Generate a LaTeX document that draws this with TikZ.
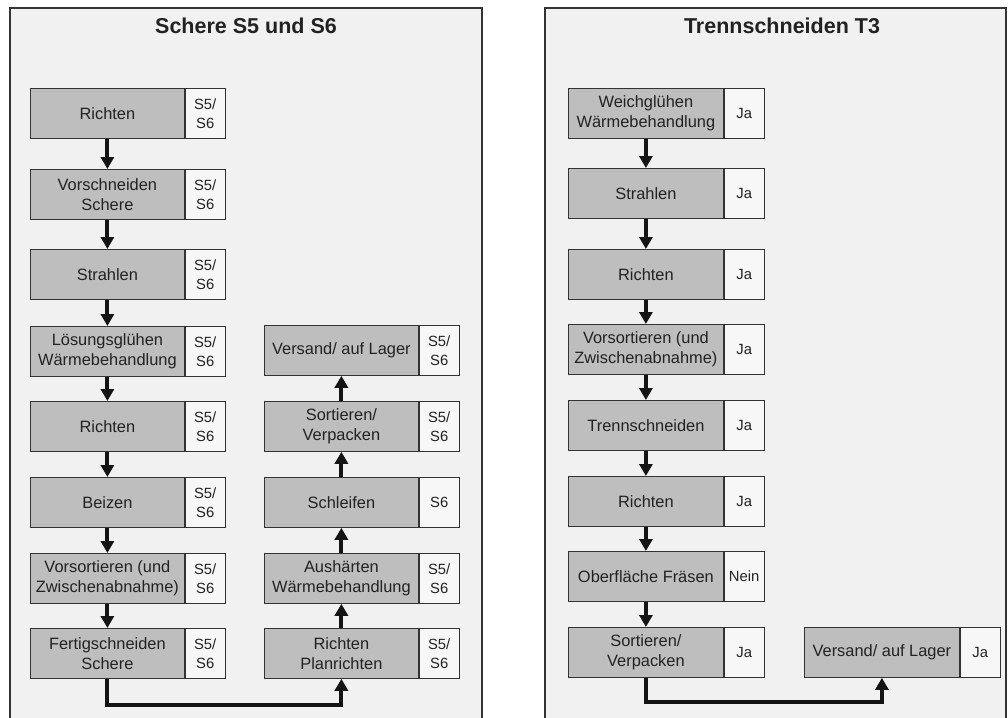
\documentclass[tikz,border=0pt]{standalone}
\usepackage{fontspec}
\setmainfont{Liberation Sans}
\usetikzlibrary{arrows.meta}
\definecolor{panelbg}{HTML}{F1F1F1}
\definecolor{panelline}{HTML}{333333}
\definecolor{procfill}{HTML}{BEBEBE}
\definecolor{sidefill}{HTML}{F7F7F7}
\definecolor{textcol}{HTML}{222222}

% process step: gray box with label plus a small side cell
% #1 name, #2 left x, #3 top y, #4 width of gray part, #5 label, #6 side text
\newcommand\flowstep[6]{%
  \node[proc, minimum width=#4pt] (#1) at (#2,#3) {#5};
  \node[side] (#1s) at (#1.north east) {#6};
}

\begin{document}
\begin{tikzpicture}[x=1pt,y=-1pt,
  panel/.style={draw=panelline, line width=1.3pt, fill=panelbg},
  title/.style={font=\bfseries\fontsize{21.5}{26}\selectfont, text=textcol},
  proc/.style={draw=panelline, line width=0.8pt, fill=procfill, anchor=north west,
    minimum height=50pt, inner sep=0pt, align=center, text=textcol,
    font=\fontsize{16.4}{20}\selectfont},
  side/.style={draw=panelline, line width=0.8pt, fill=sidefill, anchor=north west,
    minimum width=40pt, minimum height=50pt, inner sep=0pt, align=center, text=textcol,
    font=\fontsize{14.8}{19}\selectfont},
  flow/.style={line width=4pt, draw=black!92, line join=miter,
    -{Triangle[width=13pt,length=12pt]}},
]
\useasboundingbox (0,0) rectangle (1008,717);
\clip (0,0) rectangle (1008,717);

% panels
\draw[panel] (10,8) rectangle (482,740);
\draw[panel] (545,8) rectangle (1006,740);
\node[title] (t1) at (246,26) {Schere S5 und S6};
\node[title] (t2) at (782,26) {Trennschneiden T3};

% ---- Schere S5 und S6, left column
\flowstep{a1}{30}{88}{154}{Richten}{S5/\\S6}
\flowstep{a2}{30}{169}{154}{Vorschneiden\\Schere}{S5/\\S6}
\flowstep{a3}{30}{249}{154}{Strahlen}{S5/\\S6}
\flowstep{a4}{30}{326}{154}{Lösungsglühen\\Wärmebehandlung}{S5/\\S6}
\flowstep{a5}{30}{401}{154}{Richten}{S5/\\S6}
\flowstep{a6}{30}{477}{154}{Beizen}{S5/\\S6}
\flowstep{a7}{30}{553}{154}{Vorsortieren (und\\Zwischenabnahme)}{S5/\\S6}
\flowstep{a8}{30}{628}{154}{Fertigschneiden\\Schere}{S5/\\S6}

% ---- Schere S5 und S6, right column
\flowstep{b1}{264}{628}{154}{Richten\\Planrichten}{S5/\\S6}
\flowstep{b2}{264}{553}{154}{Aushärten\\Wärmebehandlung}{S5/\\S6}
\flowstep{b3}{264}{477}{154}{Schleifen}{S6}
\flowstep{b4}{264}{401}{154}{Sortieren/\\Verpacken}{S5/\\S6}
\flowstep{b5}{264}{325}{154}{Versand/ auf Lager}{S5/\\S6}

\draw[flow] (a1.south) -- (a2.north);
\draw[flow] (a2.south) -- (a3.north);
\draw[flow] (a3.south) -- (a4.north);
\draw[flow] (a4.south) -- (a5.north);
\draw[flow] (a5.south) -- (a6.north);
\draw[flow] (a6.south) -- (a7.north);
\draw[flow] (a7.south) -- (a8.north);
\draw[flow] (a8.south) -- ++(0,26) -| (b1.south);
\draw[flow] (b1.north) -- (b2.south);
\draw[flow] (b2.north) -- (b3.south);
\draw[flow] (b3.north) -- (b4.south);
\draw[flow] (b4.north) -- (b5.south);

% ---- Trennschneiden T3
\flowstep{c1}{568}{88}{155}{Weichglühen\\Wärmebehandlung}{Ja}
\flowstep{c2}{568}{168}{155}{Strahlen}{Ja}
\flowstep{c3}{568}{249}{155}{Richten}{Ja}
\flowstep{c4}{568}{324}{155}{Vorsortieren (und\\Zwischenabnahme)}{Ja}
\flowstep{c5}{568}{400}{155}{Trennschneiden}{Ja}
\flowstep{c6}{568}{476}{155}{Richten}{Ja}
\flowstep{c7}{568}{551}{155}{Oberfläche Fräsen}{Nein}
\flowstep{c8}{568}{627}{155}{Sortieren/\\Verpacken}{Ja}
\flowstep{d1}{804}{627}{155}{Versand/ auf Lager}{Ja}

\draw[flow] (c1.south) -- (c2.north);
\draw[flow] (c2.south) -- (c3.north);
\draw[flow] (c3.south) -- (c4.north);
\draw[flow] (c4.south) -- (c5.north);
\draw[flow] (c5.south) -- (c6.north);
\draw[flow] (c6.south) -- (c7.north);
\draw[flow] (c7.south) -- (c8.north);
\draw[flow] (c8.south) -- ++(0,24) -| (d1.south);
\end{tikzpicture}
\end{document}
